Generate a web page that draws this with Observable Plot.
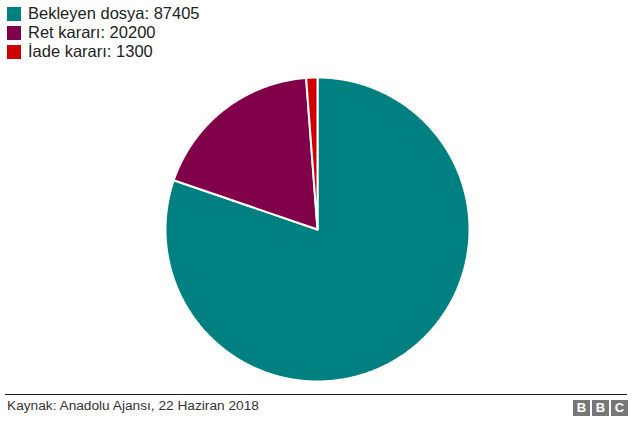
<!DOCTYPE html>
<html><head><meta charset="utf-8">
<script src="https://cdn.jsdelivr.net/npm/d3@7"></script>
<script src="https://cdn.jsdelivr.net/npm/@observablehq/plot@0.6"></script>
<style>
body{margin:0;background:#fff;font-family:"Liberation Sans",Arial,sans-serif;color:#222;}
#wrap{position:relative;width:635px;height:427px;overflow:hidden;}
.leg{position:absolute;left:7px;font-size:16.5px;line-height:19px;display:flex;align-items:center;white-space:nowrap;}
.sw{width:14px;height:14px;margin-right:7px;display:inline-block;}
#chart{position:absolute;left:0;top:62px;}
#rule{position:absolute;left:5px;width:622px;top:394px;height:1px;background:#222;}
#cap{position:absolute;left:7px;top:398px;font-size:13.7px;color:#333;}
#bbc{position:absolute;left:573px;top:400px;display:flex;gap:2px;}
#bbc span{width:17px;height:16px;background:#777;color:#fff;font-weight:bold;font-size:13px;line-height:16px;text-align:center;}
</style></head>
<body><div id="wrap">
<div id="legend"></div>
<div id="chart"></div>
<div id="rule"></div>
<div id="cap">Kaynak: Anadolu Ajansı, 22 Haziran 2018</div>
<div id="bbc"><span>B</span><span>B</span><span>C</span></div>
</div>
<script>
const categories = ["Bekleyen dosya", "Ret kararı", "İade kararı"];
const values = [87405, 20200, 1300];
const colors = ["#008080", "#80004a", "#d10000"];

// legend
const legend = document.getElementById("legend");
categories.forEach((c, i) => {
  const d = document.createElement("div");
  d.className = "leg";
  d.style.top = (4 + i * 19) + "px";
  d.innerHTML = `<span class="sw" style="background:${colors[i]}"></span>${c}: ${values[i]}`;
  legend.appendChild(d);
});

// pie slices as polygons in unit coordinates (clockwise from top)
const arcs = d3.pie().sort(null)(values);
const pts = [];
arcs.forEach((a, i) => {
  const cat = categories[i];
  pts.push({cat, x: 0, y: 0});
  const n = Math.max(2, Math.ceil((a.endAngle - a.startAngle) / (Math.PI / 360)));
  for (let k = 0; k <= n; k++) {
    const t = a.startAngle + (a.endAngle - a.startAngle) * k / n;
    pts.push({cat, x: Math.sin(t), y: Math.cos(t)});
  }
  pts.push({cat, x: 0, y: 0});
});

const W = 635, H = 330, cx = 317, cy = 167, r = 152;
const plot = Plot.plot({
  width: W, height: H,
  margin: 0,
  x: {domain: [-1, 1], range: [cx - r, cx + r], axis: null},
  y: {domain: [-1, 1], range: [cy + r, cy - r], axis: null},
  color: {domain: categories, range: colors},
  marks: [
    Plot.line(pts, {x: "x", y: "y", z: "cat", fill: "cat", stroke: "#fff", strokeWidth: 2, strokeLinejoin: "round"})
  ]
});
document.getElementById("chart").appendChild(plot);
</script>
</body></html>
